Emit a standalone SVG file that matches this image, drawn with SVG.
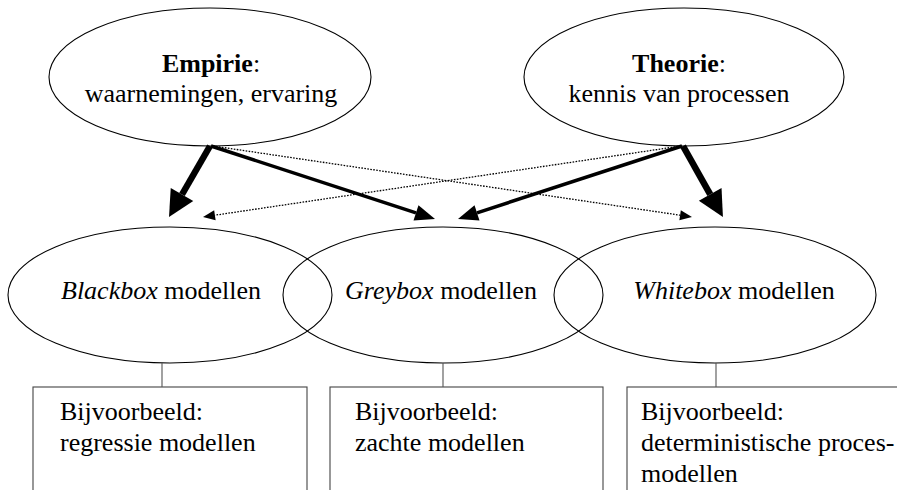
<svg xmlns="http://www.w3.org/2000/svg" width="897" height="490" viewBox="0 0 897 490">
<style>
  .el { fill: none; stroke: #000; stroke-width: 1.1; }
  .bx { fill: none; stroke: #444; stroke-width: 1.1; }
  .tx { font-family: 'Liberation Serif', 'DejaVu Serif', serif; font-size: 26px; fill: #000; }
  .thick { stroke: #000; stroke-width: 6.5; fill: none; }
  .med { stroke: #000; stroke-width: 3.5; fill: none; }
  .dot { stroke: #000; stroke-width: 1.3; stroke-dasharray: 1.6 1.4; fill: none; }
  .tick { stroke: #555; stroke-width: 1.1; }
</style>
<defs>
  <marker id="hThick" markerUnits="userSpaceOnUse" markerWidth="27" markerHeight="27" refX="0" refY="13" orient="auto" overflow="visible">
    <path d="M0,0 L26,13 L0,26 z" fill="#000"/>
  </marker>
  <marker id="hMed" markerUnits="userSpaceOnUse" markerWidth="21" markerHeight="17" refX="0" refY="8" orient="auto" overflow="visible">
    <path d="M0,0 L20,8 L0,16 z" fill="#000"/>
  </marker>
  <marker id="hDot" markerUnits="userSpaceOnUse" markerWidth="13" markerHeight="11" refX="0" refY="5" orient="auto" overflow="visible">
    <path d="M0,0 L12,5 L0,10 z" fill="#000"/>
  </marker>
</defs>

<g id="empirie">
  <ellipse class="el" cx="210" cy="77" rx="161" ry="69"/>
  <text class="tx" font-family="Liberation Serif, serif" x="211" y="72" text-anchor="middle"><tspan font-weight="bold">Empirie</tspan>:</text>
  <text class="tx" x="211" y="102" text-anchor="middle">waarnemingen, ervaring</text>
</g>

<g id="theorie">
  <ellipse class="el" cx="684" cy="77" rx="160" ry="69"/>
  <text class="tx" x="679" y="72" text-anchor="middle"><tspan font-weight="bold">Theorie</tspan>:</text>
  <text class="tx" x="679" y="102" text-anchor="middle">kennis van processen</text>
</g>

<g id="blackbox">
  <ellipse class="el" cx="170" cy="295" rx="162" ry="68"/>
  <text class="tx" x="161" y="299" text-anchor="middle"><tspan font-style="italic">Blackbox</tspan> modellen</text>
</g>

<g id="greybox">
  <ellipse class="el" cx="443" cy="295" rx="160" ry="68"/>
  <text class="tx" x="441" y="299" text-anchor="middle"><tspan font-style="italic">Greybox</tspan> modellen</text>
</g>

<g id="whitebox">
  <ellipse class="el" cx="715" cy="295" rx="161" ry="68"/>
  <text class="tx" x="734" y="299" text-anchor="middle"><tspan font-style="italic">Whitebox</tspan> modellen</text>
</g>

<g id="box-regressie">
  <rect class="bx" x="33" y="387" width="274" height="130"/>
  <text class="tx" x="60" y="420">Bijvoorbeeld:</text>
  <text class="tx" x="60" y="451">regressie modellen</text>
</g>

<g id="box-zacht">
  <rect class="bx" x="330" y="387" width="273" height="130"/>
  <text class="tx" x="355" y="420">Bijvoorbeeld:</text>
  <text class="tx" x="355" y="451">zachte modellen</text>
</g>

<g id="box-deterministisch">
  <rect class="bx" x="627" y="387" width="300" height="130"/>
  <text class="tx" x="641" y="420">Bijvoorbeeld:</text>
  <text class="tx" x="641" y="451">deterministische proces-</text>
  <text class="tx" x="641" y="482">modellen</text>
</g>

<g id="connectors">
  <line class="tick" x1="162" y1="363" x2="162" y2="387"/>
  <line class="tick" x1="443" y1="363" x2="443" y2="387"/>
  <line class="tick" x1="716" y1="363" x2="716" y2="387"/>

  <line class="thick" x1="210" y1="146" x2="182" y2="194.5" marker-end="url(#hThick)"/>
  <line class="thick" x1="683" y1="146" x2="710.2" y2="194.4" marker-end="url(#hThick)"/>

  <line class="med" x1="211" y1="146" x2="416" y2="212.8" marker-end="url(#hMed)"/>
  <line class="med" x1="682" y1="146" x2="477" y2="212.8" marker-end="url(#hMed)"/>

  <line class="dot" x1="213" y1="146" x2="680.1" y2="215.2" marker-end="url(#hDot)"/>
  <line class="dot" x1="681" y1="146" x2="214.9" y2="215.2" marker-end="url(#hDot)"/>
</g>
</svg>
